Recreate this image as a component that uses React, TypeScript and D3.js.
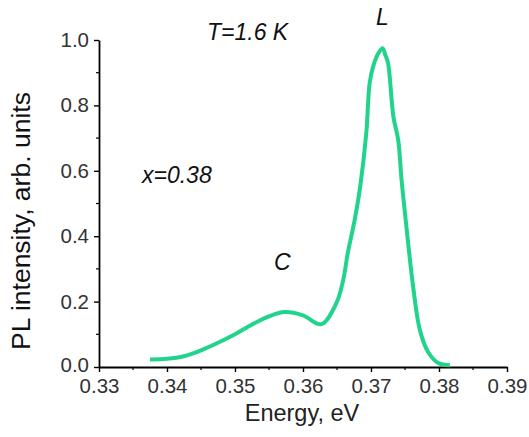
import React, { useEffect, useRef } from 'react';
import * as d3 from 'd3';

// PL spectrum
const energy = [0.3375, 0.34, 0.3425, 0.345, 0.3475, 0.35, 0.3525, 0.355, 0.3573, 0.36, 0.3627, 0.3649, 0.3659, 0.3666, 0.3676, 0.3684, 0.3693, 0.3698, 0.3703, 0.3711, 0.3717, 0.3721, 0.3725, 0.3733, 0.374, 0.3745, 0.3751, 0.3762, 0.3772, 0.3784, 0.3799, 0.3816];
const intensity = [0.023, 0.025, 0.033, 0.051, 0.074, 0.1, 0.13, 0.155, 0.168, 0.158, 0.131, 0.195, 0.265, 0.35, 0.45, 0.55, 0.714, 0.868, 0.918, 0.96, 0.975, 0.955, 0.93, 0.765, 0.694, 0.571, 0.45, 0.245, 0.112, 0.046, 0.012, 0.005];

const xTicks = [0.33, 0.34, 0.35, 0.36, 0.37, 0.38, 0.39];
const yTicks = [0.0, 0.2, 0.4, 0.6, 0.8, 1.0];

const W = 529;
const H = 437;

export default function App() {
  const ref = useRef<SVGSVGElement>(null);

  useEffect(() => {
    const m = { top: 40, right: 22, bottom: 70, left: 99 };
    const w = W - m.left - m.right;
    const h = H - m.top - m.bottom;

    const svg = d3.select(ref.current);
    svg.selectAll('*').remove();
    const g = svg.append('g').attr('transform', `translate(${m.left},${m.top})`);

    const x = d3.scaleLinear().domain([0.33, 0.39]).range([0, w]);
    const y = d3.scaleLinear().domain([0, 1]).range([h, 0]);

    const font = 'Arial, "Liberation Sans", sans-serif';

    // minor ticks
    const xMinor = d3.range(0.335, 0.39, 0.01);
    const yMinor = d3.range(0.1, 1.0, 0.2);
    g.selectAll('.xm').data(xMinor).join('line')
      .attr('x1', d => x(d)).attr('x2', d => x(d))
      .attr('y1', h).attr('y2', h + 3).attr('stroke', '#000').attr('stroke-width', 1.2);
    g.selectAll('.ym').data(yMinor).join('line')
      .attr('y1', d => y(d)).attr('y2', d => y(d))
      .attr('x1', 0).attr('x2', -3).attr('stroke', '#000').attr('stroke-width', 1.2);

    const xAxis = g.append('g').attr('transform', `translate(0,${h})`)
      .call(d3.axisBottom(x).tickValues(xTicks).tickSize(5).tickSizeOuter(0).tickPadding(6).tickFormat(d3.format('.2f')));
    const yAxis = g.append('g')
      .call(d3.axisLeft(y).tickValues(yTicks).tickSize(5).tickSizeOuter(0).tickPadding(5).tickFormat(d3.format('.1f')));

    [xAxis, yAxis].forEach(a => {
      a.select('.domain').attr('stroke', '#000').attr('stroke-width', 1.8);
      a.selectAll('.tick line').attr('stroke', '#000').attr('stroke-width', 1.4);
      a.selectAll('.tick text').attr('fill', '#333').attr('font-size', 20.5).attr('font-family', font);
    });
    // lift the 0.0 label a touch so it clears 0.33
    yAxis.selectAll('.tick text').filter(d => d === 0).attr('dy', '0.2em');

    const line = d3.line<number>()
      .x((d, i) => x(energy[i]))
      .y(d => y(d))
      .curve(d3.curveCatmullRom.alpha(0.5));

    g.append('path')
      .attr('d', line(intensity))
      .attr('fill', 'none')
      .attr('stroke', '#22d38c')
      .attr('stroke-width', 4)
      .attr('stroke-linejoin', 'round');

    // axis titles
    svg.append('text')
      .attr('x', 302).attr('y', 421)
      .attr('text-anchor', 'middle').attr('font-size', 23.5).attr('font-family', font).attr('fill', '#222')
      .text('Energy, eV');
    svg.append('text')
      .attr('transform', `translate(30,${221}) rotate(-90)`)
      .attr('text-anchor', 'middle').attr('font-size', 26.5).attr('font-family', font).attr('fill', '#111')
      .text('PL intensity, arb. units');

    // annotations
    const ann = (tx: number, ty: number, s: string) =>
      svg.append('text').attr('x', tx).attr('y', ty)
        .attr('font-size', 23).attr('font-style', 'italic').attr('font-family', font).attr('fill', '#111')
        .text(s);
    ann(207, 40, 'T=1.6 K');
    ann(142, 183, 'x=0.38');
    ann(376, 25, 'L');
    ann(274, 270, 'C');
  }, []);

  return <svg ref={ref} width={W} height={H} style={{ display: 'block', position: 'absolute', left: 0, top: 0, background: '#fff' }} />;
}
